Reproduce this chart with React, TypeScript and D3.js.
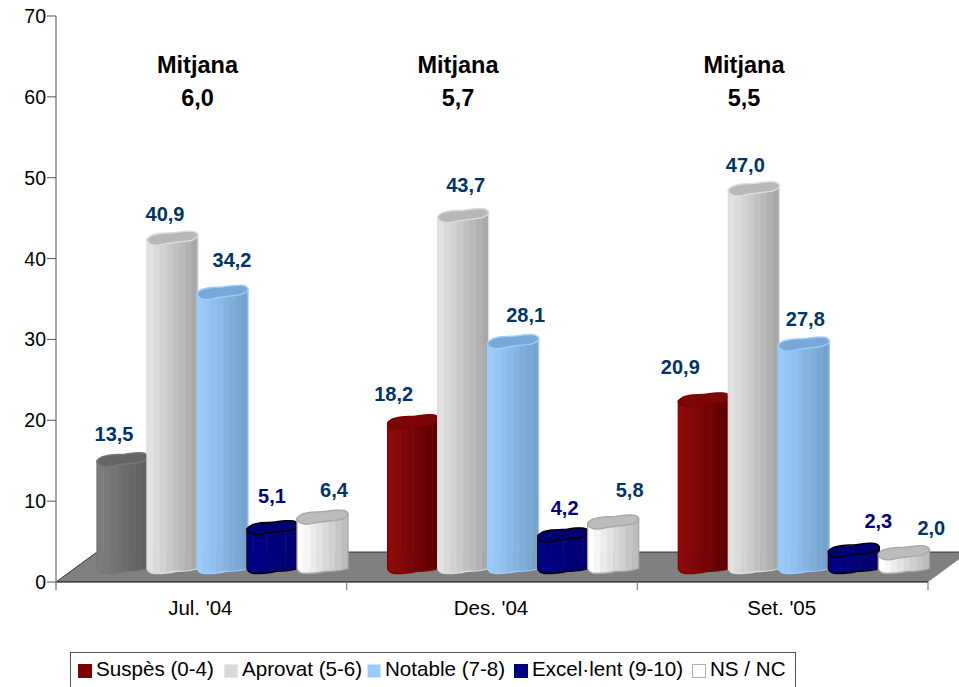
import React from "react";
import * as d3 from "d3";

const categories = ["Jul. '04", "Des. '04", "Set. '05"];
const seriesNames = ["Suspès (0-4)", "Aprovat (5-6)", "Notable (7-8)", "Excel·lent (9-10)", "NS / NC"];
const suspes = [13.5, 18.2, 20.9];
const aprovat = [40.9, 43.7, 47.0];
const notable = [34.2, 28.1, 27.8];
const excellent = [5.1, 4.2, 2.3];
const nsnc = [6.4, 5.8, 2.0];
const mitjana = ["6,0", "5,7", "5,5"];
const yTicks = [0, 10, 20, 30, 40, 50, 60, 70];

const seriesValues = [suspes, aprovat, notable, excellent, nsnc];
// [left facet, right facet, cap, outline]
const skins = [
  ["#8f0a0a", "#5c0000", "#7a0606", "#800000"],
  ["#e2e2e2", "#a9a9a9", "#b8b8b8", "#dcdcdc"],
  ["#9ccbfb", "#76a2cc", "#78a8d8", "#99ccff"],
  ["#000085", "#000070", "#000070", "#000000"],
  ["#ffffff", "#bdbdbd", "#bcbcbc", "#a8a8a8"],
];
const greySkin = ["#7c7c7c", "#606060", "#656565", "#777777"];
const swatches = ["#800000", "#d9d9d9", "#99ccff", "#000080", "#ffffff"];
const swatchEdges = ["#800000", "#e8e8e8", "#cfe5ff", "#000080", "#b0b0b0"];
const labelOffsets = [
  [[-8, -20], [-7, -18], [10, -26], [0, -26], [12, -21]],
  [[-19, -22], [3, -25], [13, -21], [2, -21], [17, -26]],
  [[-23, -27], [-8, -18], [2, -19], [25, -23], [28, -19]],
];
const labelColors = ["#003366", "#003366", "#003366", "#000080", "#003366"];
const mitjanaX = [197.5, 458, 744];
const legendTextX = [96, 242, 385, 532, 710];

const left = 56, right = 928, depthX = 41, depthY = 30;
const y = d3.scaleLinear().domain([0, 70]).range([582, 16]);
const x0 = d3.scaleBand<number>().domain(d3.range(categories.length)).range([left, right]);
const barW = 51;
const barStep = 50;
const barX = (g: number, s: number) => x0(g)! + depthX + s * barStep;
const facets = 8;

const closed = d3.line().curve(d3.curveCatmullRomClosed.alpha(0.5));

function capPts(x: number, t: number, w: number): [number, number][] {
  return [
    [x, t + 0.5], [x + w * 0.08, t - 3.5], [x + w * 0.28, t - 6], [x + w * 0.5, t - 6.5], [x + w * 0.75, t - 8],
    [x + w * 0.94, t - 7.5], [x + w, t - 4], [x + w * 0.9, t + 0.5], [x + w * 0.66, t + 2.5], [x + w * 0.42, t + 4],
    [x + w * 0.2, t + 6], [x + w * 0.06, t + 4.5],
  ];
}

function bodyPath(x: number, t: number, w: number, b: number) {
  return `M${x},${t} L${x},${b - 1} Q${x + 2},${b + 3.5} ${x + w * 0.15},${b + 3.5} Q${x + w * 0.4},${b + 3.5} ${x + w * 0.55},${b + 1.5} Q${x + w * 0.85},${b + 1.5} ${x + w},${b - 1.5} L${x + w},${t - 4} Q${x + w * 0.6},${t + 2} ${x},${t} Z`;
}

const Cylinder = ({ g, s, v }: { g: number; s: number; v: number }) => {
  const x = barX(g, s);
  const t = y(v) - 12;
  const b = y(0) - 12;
  const skin = g === 0 && s === 0 ? greySkin : skins[s];
  const color = d3.interpolateRgb(skin[0], skin[1]);
  const id = `c${g}-${s}`;
  const d = bodyPath(x, t, barW, b);
  return (
    <g>
      <clipPath id={id}><path d={d} /></clipPath>
      <g clipPath={`url(#${id})`}>
        {d3.range(facets).map((i) => (
          <rect key={i} x={x + (i * barW) / facets} y={t - 10} width={barW / facets + 0.5} height={b - t + 20} fill={color(i / (facets - 1))} />
        ))}
      </g>
      <path d={d} fill="none" stroke={skin[3]} strokeWidth={1.3} />
      <path d={closed(capPts(x, t, barW))!} fill={skin[2]} stroke={skin[3]} strokeWidth={1.4} />
    </g>
  );
};

export default function App() {
  const font = "'Liberation Sans', Arial, sans-serif";
  return (
    <svg width={959} height={687} style={{ position: "absolute", left: 0, top: 0, display: "block" }} fontFamily={font}>
      <rect width={959} height={687} fill="#fff" />
      <polygon
        points={`${left},${y(0)} ${left + depthX},${y(0) - depthY} ${right + depthX},${y(0) - depthY} ${right},${y(0)}`}
        fill="#808080"
      />
      <path d={`M${left},${y(0)} L${left + depthX},${y(0) - depthY} L${right + depthX},${y(0) - depthY}`} fill="none" stroke="#111" strokeWidth={0.8} />
      <line x1={left} x2={right} y1={y(0)} y2={y(0)} stroke="#000" strokeWidth={1} />

      <line x1={left} x2={left} y1={y(70)} y2={y(0) + 8} stroke="#808080" strokeWidth={1.4} />
      {yTicks.map((t) => (
        <g key={t}>
          <line x1={left - 9} x2={left} y1={y(t)} y2={y(t)} stroke="#555" strokeWidth={1} />
          <text x={46} y={y(t) + 7} textAnchor="end" fontSize={19.5} fill="#000">{t}</text>
        </g>
      ))}
      {categories.map((c, g) => (
        <g key={c}>
          <line x1={x0(g)! + x0.bandwidth()} x2={x0(g)! + x0.bandwidth()} y1={y(0)} y2={y(0) + 8} stroke="#808080" strokeWidth={1.2} />
          <text x={x0(g)! + x0.bandwidth() / 2 - 1} y={615} textAnchor="middle" fontSize={20.5} fill="#000">{c}</text>
        </g>
      ))}

      {categories.map((_, g) =>
        seriesValues.map((vals, s) => <Cylinder key={`${g}-${s}`} g={g} s={s} v={vals[g]} />)
      )}

      {categories.map((_, g) =>
        seriesValues.map((vals, s) => (
          <text
            key={`${g}-${s}`}
            x={barX(g, s) + barStep / 2 + labelOffsets[g][s][0]}
            y={y(vals[g]) - 12 + labelOffsets[g][s][1]}
            textAnchor="middle"
            fontSize={20}
            fontWeight="bold"
            fill={labelColors[s]}
          >
            {vals[g].toFixed(1).replace(".", ",")}
          </text>
        ))
      )}

      {mitjana.map((m, g) => (
        <g key={g} textAnchor="middle" fontSize={23.5} fontWeight="bold" fill="#000">
          <text x={mitjanaX[g]} y={73}>Mitjana</text>
          <text x={mitjanaX[g]} y={106}>{m}</text>
        </g>
      ))}

      <rect x={70.5} y={652.5} width={725} height={40} fill="#fff" stroke="#555" strokeWidth={1} />
      {seriesNames.map((n, i) => (
        <g key={n}>
          <rect x={legendTextX[i] - 17.5} y={664.5} width={13} height={13} fill={swatches[i]} stroke={swatchEdges[i]} strokeWidth={1} />
          <text x={legendTextX[i]} y={676} fontSize={20.6} fill="#000">{n}</text>
        </g>
      ))}
    </svg>
  );
}
